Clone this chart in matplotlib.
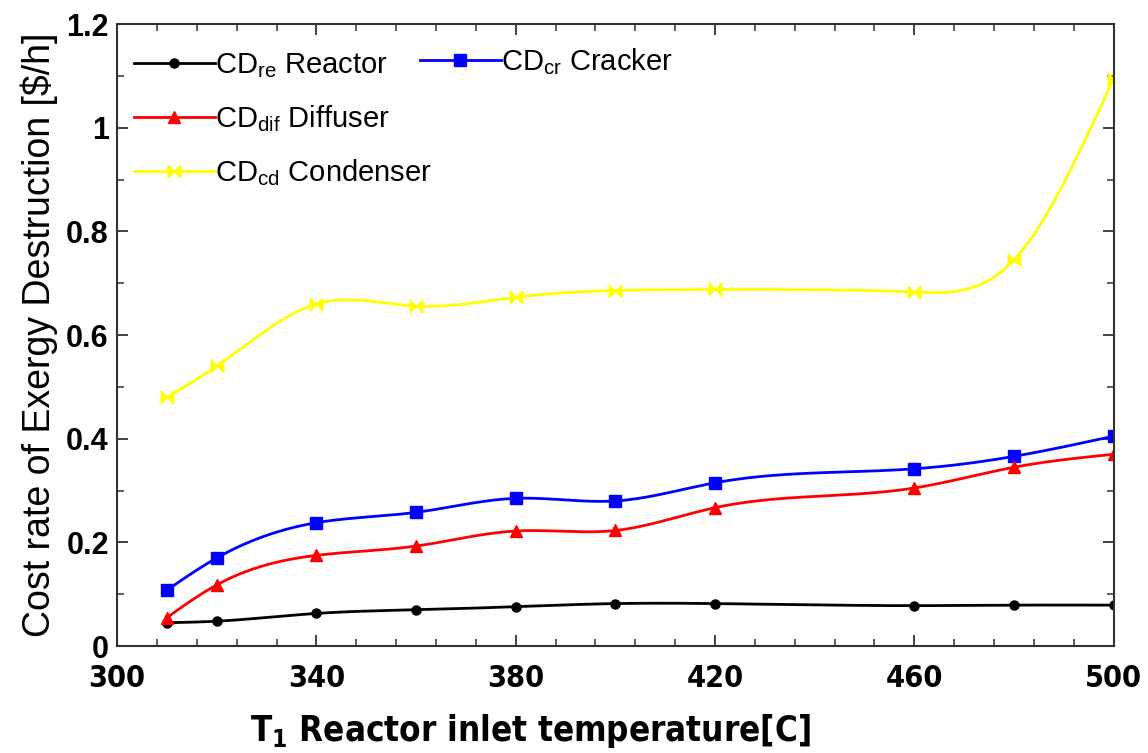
# cost rate of exergy destruction vs reactor inlet temperature
import numpy as np
import matplotlib
matplotlib.use("Agg")
import matplotlib.pyplot as plt
from matplotlib.path import Path
from matplotlib.ticker import FixedLocator
from matplotlib import font_manager

plt.rcParams['font.family'] = ['Liberation Sans', 'DejaVu Sans']
plt.rcParams['mathtext.default'] = 'regular'

temps = [310, 320, 340, 360, 380, 400, 420, 460, 480, 500]
cd_reactor = [0.045, 0.048, 0.063, 0.070, 0.076, 0.082, 0.082, 0.078, 0.079, 0.079]
cd_cracker = [0.108, 0.170, 0.238, 0.258, 0.285, 0.280, 0.315, 0.342, 0.366, 0.405]
cd_diffuser = [0.055, 0.118, 0.175, 0.193, 0.222, 0.223, 0.267, 0.305, 0.345, 0.370]
cd_condenser = [0.480, 0.540, 0.660, 0.656, 0.673, 0.686, 0.688, 0.683, 0.745, 1.095]

x_ticks = [300, 340, 380, 420, 460, 500]
y_ticks = [0, 0.2, 0.4, 0.6, 0.8, 1.0, 1.2]
y_ticklabels = ['0', '0.2', '0.4', '0.6', '0.8', '1', '1.2']


def smooth(x, y, n=400):
    # natural cubic spline, only for drawing the line between the points
    x = np.asarray(x, float)
    y = np.asarray(y, float)
    m = len(x)
    h = np.diff(x)
    A = np.zeros((m, m))
    r = np.zeros(m)
    A[0, 0] = A[-1, -1] = 1
    for i in range(1, m - 1):
        A[i, i - 1] = h[i - 1]
        A[i, i] = 2 * (h[i - 1] + h[i])
        A[i, i + 1] = h[i]
        r[i] = 3 * ((y[i + 1] - y[i]) / h[i] - (y[i] - y[i - 1]) / h[i - 1])
    c = np.linalg.solve(A, r)
    b = (y[1:] - y[:-1]) / h - h * (2 * c[:-1] + c[1:]) / 3
    d = (c[1:] - c[:-1]) / (3 * h)
    xs = np.linspace(x[0], x[-1], n)
    k = np.clip(np.searchsorted(x, xs) - 1, 0, m - 2)
    t = xs - x[k]
    ys = y[k] + b[k] * t + c[k] * t ** 2 + d[k] * t ** 3
    return xs, ys


# bow-tie marker for the condenser
bowtie = Path([(-1, 1), (-1, -1), (0, 0), (-1, 1), (1, 1), (1, -1), (0, 0), (1, 1)],
              [Path.MOVETO, Path.LINETO, Path.LINETO, Path.CLOSEPOLY,
               Path.MOVETO, Path.LINETO, Path.LINETO, Path.CLOSEPOLY])

series = [
    (cd_reactor, 'black', 'o', 6.5, 'CD$_{re}$ Reactor'),
    (cd_cracker, '#0000ff', 's', 8.5, 'CD$_{cr}$ Cracker'),
    (cd_diffuser, '#ff0000', '^', 8.5, 'CD$_{dif}$ Diffuser'),
    (cd_condenser, '#ffff00', bowtie, 9, 'CD$_{cd}$ Condenser'),
]

# narrow bold face for the x axis, if one is around
names = {f.name for f in font_manager.fontManager.ttflist}
if 'Liberation Sans Narrow' in names:
    narrow = dict(family='Liberation Sans Narrow', fontweight='bold')
else:
    narrow = dict(family='DejaVu Sans', fontstretch='condensed', fontweight='bold')

fig = plt.figure(figsize=(11.48, 7.53), dpi=100)
ax = fig.add_axes([0.102, 0.142, 0.868, 0.826])

handles = {}
for vals, col, mk, ms, lab in series:
    xs, ys = smooth(temps, vals)
    ax.plot(xs, ys, color=col, lw=2)
    ax.plot(temps, vals, ls='none', marker=mk, ms=ms, color=col, mec=col)
    h, = ax.plot([], [], color=col, lw=2, marker=mk, ms=ms, mec=col, label=lab)
    handles[lab] = h

ax.set_xlim(300, 500)
ax.set_ylim(0, 1.2)
ax.set_xticks(x_ticks)
ax.xaxis.set_minor_locator(FixedLocator(np.arange(300, 501, 8)))
ax.set_yticks(y_ticks)
ax.set_yticklabels(y_ticklabels)
ax.yaxis.set_minor_locator(FixedLocator(np.arange(0.1, 1.2, 0.2)))

ax.tick_params(which='both', direction='in', top=True, right=True, colors='#333333')
ax.tick_params(which='major', length=8, width=1.3)
ax.tick_params(which='minor', length=5, width=1.1)
ax.tick_params(axis='y', labelsize=22, pad=6, labelcolor='black')
ax.tick_params(axis='x', pad=13, labelcolor='black')
for lbl in ax.get_yticklabels():
    lbl.set_fontweight('bold')
for lbl in ax.get_xticklabels():
    lbl.update(narrow)
    lbl.set_fontsize(22)
for sp in ax.spines.values():
    sp.set_color('#333333')
    sp.set_linewidth(1.5)

ax.set_ylabel('Cost rate of Exergy Destruction [$/h]', fontsize=27, labelpad=6)
ax.set_xlabel('T$_{1}$ Reactor inlet temperature[C]', fontsize=25, **narrow)
ax.xaxis.set_label_coords(0.415, -0.106)

labs = [s[4] for s in series]
leg1 = ax.legend([handles[labs[0]], handles[labs[2]], handles[labs[3]]],
                 [labs[0], labs[2], labs[3]], loc='upper left',
                 bbox_to_anchor=(-0.004, 0.99), frameon=False, fontsize=21,
                 handlelength=2.8, handletextpad=0.0, labelspacing=0.8,
                 borderaxespad=0.3)
ax.add_artist(leg1)
ax.legend([handles[labs[1]]], [labs[1]], loc='upper left',
          bbox_to_anchor=(0.283, 0.997), frameon=False, fontsize=21,
          handlelength=2.8, handletextpad=0.0, borderaxespad=0.3)

fig.savefig('out.png', dpi=100)
